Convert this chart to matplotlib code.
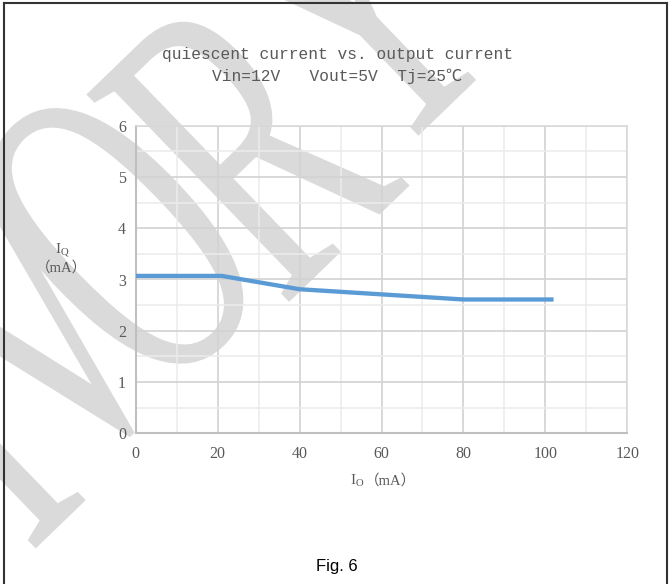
import matplotlib
matplotlib.use("Agg")
import matplotlib.pyplot as plt
from matplotlib.ticker import MultipleLocator
from matplotlib.textpath import TextPath
from matplotlib.font_manager import FontProperties
from matplotlib.patches import PathPatch
from matplotlib.transforms import Affine2D
from matplotlib.lines import Line2D

# ---- data ----
io_ma = [0, 21, 40, 60, 80, 102]              # output current, mA
iq_ma = [3.07, 3.07, 2.81, 2.71, 2.61, 2.61]  # quiescent current, mA
x_ticks = [0, 20, 40, 60, 80, 100, 120]
y_ticks = [0, 1, 2, 3, 4, 5, 6]
title_lines = ["quiescent current vs. output current",
               "Vin=12V   Vout=5V  Tj=25\u2103"]
caption = "Fig. 6"
watermark = ["I", "V", "O", "R", "Y"]

W, H = 671, 584
plt.rcParams["mathtext.fontset"] = "custom"
plt.rcParams["mathtext.rm"] = "Liberation Serif"
plt.rcParams["mathtext.it"] = "Liberation Serif"

fig = plt.figure(figsize=(W / 100, H / 100), dpi=100)
fig.patch.set_facecolor("white")

px = Affine2D().scale(1 / W, 1 / H) + fig.transFigure


def fx(x):
    return x / W


def fy(y):
    return 1 - y / H


# ---- background watermark glyphs ----
wm_layout = [  # centre x, centre y (px from top), height px, x-squeeze, angle
    (-40, 420, 290, 0.6, 44),
    (31, 331, 290, 0.6, 44),
    (118, 236, 305, 0.55, 44),
    (248, 140, 290, 0.6, 44),
    (345, 5, 290, 0.6, 44),
]
fp_wm = FontProperties(family="Liberation Serif")
for ch, (cx, cy, hpx, sq, ang) in zip(watermark, wm_layout):
    tp = TextPath((0, 0), ch, size=100, prop=fp_wm)
    bb = tp.get_extents()
    s = hpx / bb.height
    tr = (Affine2D()
          .translate(-(bb.x0 + bb.x1) / 2, -(bb.y0 + bb.y1) / 2)
          .scale(s * sq, s)
          .rotate_deg(ang)
          .translate(cx, H - cy))
    patch = PathPatch(tr.transform_path(tp), facecolor="#dadada",
                      edgecolor="none", transform=px, zorder=-5)
    fig.patches.append(patch)

# ---- plot area ----
ax = fig.add_axes([fx(135.7), fy(433.3), fx(627.3) - fx(135.7), fy(125.7) - fy(433.3)])
ax.set_facecolor("none")
ax.set_xlim(0, 120)
ax.set_ylim(0, 6)
ax.set_xticks(x_ticks)
ax.set_yticks(y_ticks)
ax.xaxis.set_minor_locator(MultipleLocator(10))
ax.yaxis.set_minor_locator(MultipleLocator(0.5))
ax.grid(which="major", color="#d2d2d2", linewidth=1.2, zorder=0)
ax.grid(which="minor", color="#ebebeb", linewidth=1.1, zorder=0)
ax.set_axisbelow(True)
ax.tick_params(which="both", length=0)
ax.tick_params(axis="y", pad=7)
ax.tick_params(axis="x", pad=9)
for lbl in ax.get_xticklabels() + ax.get_yticklabels():
    lbl.set_fontfamily("Liberation Serif")
    lbl.set_fontsize(11.5)
    lbl.set_color("#595959")
for side in ("left", "bottom"):
    ax.spines[side].set_color("#bfbfbf")
    ax.spines[side].set_linewidth(1.5)
for side in ("top", "right"):
    ax.spines[side].set_color("#d9d9d9")
    ax.spines[side].set_linewidth(1.2)

ax.plot(io_ma, iq_ma, color="#5b9bd5", linewidth=3.1,
        solid_joinstyle="round", solid_capstyle="butt", zorder=3)

# ---- texts ----
title_font = ["Liberation Mono", "Noto Sans CJK SC"]
fig.text(fx(338), fy(54), title_lines[0], family=title_font, fontsize=11.7,
         color="#595959", ha="center", va="center")
fig.text(fx(337), fy(76.5), title_lines[1], family=title_font, fontsize=11.7,
         color="#595959", ha="center", va="center")

lab_font = ["Liberation Serif", "Noto Sans CJK SC"]
fig.text(fx(62), fy(249), r"$\mathrm{I_Q}$", fontsize=11, color="#595959",
         ha="center", va="center")
fig.text(fx(62), fy(268), "\uff08mA\uff09", family=lab_font, fontsize=10.5,
         color="#595959", ha="center", va="center")
fig.text(fx(364), fy(481), r"$\mathrm{I_O}$", fontsize=11, color="#595959",
         ha="right", va="center")
fig.text(fx(365), fy(481), "\uff08mA\uff09", family=lab_font, fontsize=10.5,
         color="#595959", ha="left", va="center")

fig.text(fx(337), fy(566), caption, family="Liberation Sans", fontsize=12,
         color="black", ha="center", va="center")

# ---- page frame ----
frame_kw = dict(color="#333333", linewidth=1.5, transform=px)
fig.lines.append(Line2D([4, 4], [0, H - 3], **frame_kw))
fig.lines.append(Line2D([667, 667], [0, H - 3], **frame_kw))
fig.lines.append(Line2D([4, 667], [H - 3, H - 3], **frame_kw))

fig.savefig("out.png", dpi=100)
